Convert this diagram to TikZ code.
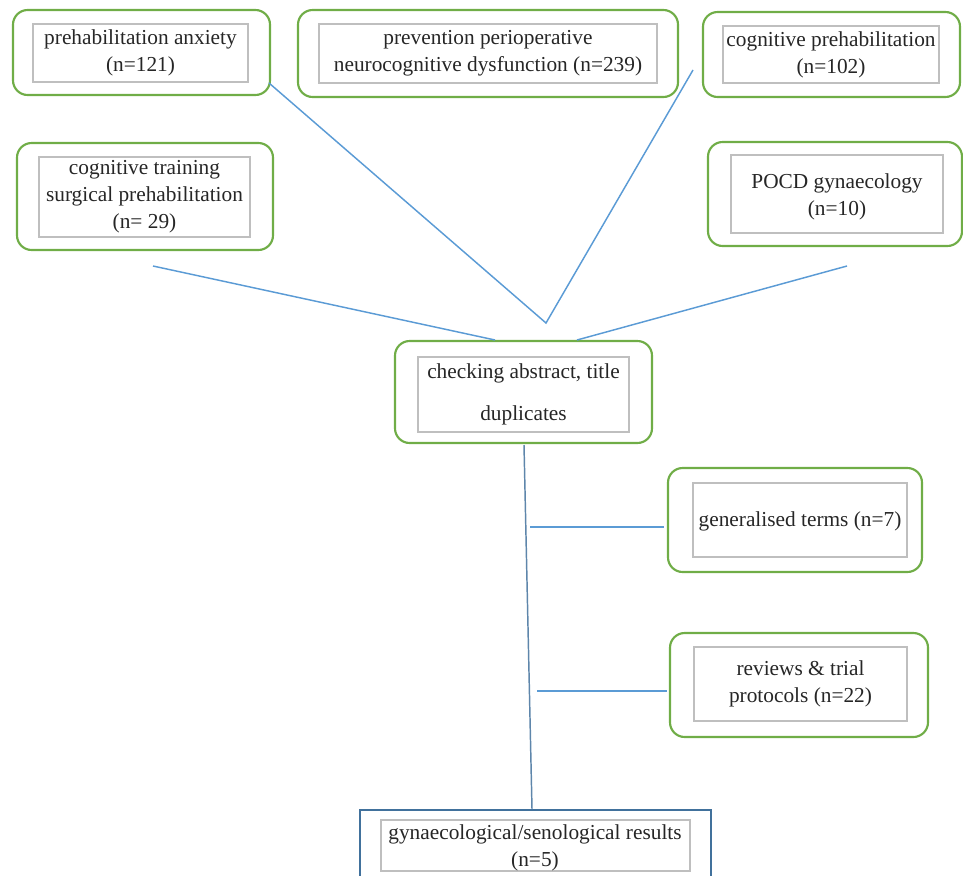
\documentclass[tikz,border=0pt]{standalone}
\usepackage{fontspec}
\setmainfont{Liberation Serif}
\usetikzlibrary{fit}
\definecolor{gr}{HTML}{70AD47}
\definecolor{gy}{HTML}{BFBFBF}
\definecolor{bl}{HTML}{5B9BD5}
\definecolor{db}{HTML}{41719C}
\tikzset{
  outerbox/.style={draw=gr, line width=1.6pt, rounded corners=11pt, inner sep=0pt},
  finalbox/.style={draw=db, line width=1.5pt, inner sep=0pt},
  innerbox/.style={draw=gy, line width=0.9pt, inner sep=0pt},
  txt/.style={align=center, inner sep=0pt, font=\fontsize{16}{20.25}\selectfont, text=black!85},
  link/.style={draw=bl, line width=1.1pt},
  trunk/.style={draw=db!85, line width=1.1pt}
}
\newcommand{\mybox}[6]{%
  \path (#3,#4) coordinate (#2-a) (#5,#6) coordinate (#2-b);
  \node[#1, fit=(#2-a)(#2-b)] (#2) {};}
\begin{document}
\begin{tikzpicture}[x=0.75pt,y=-0.75pt]
\useasboundingbox (0,0) rectangle (963,875);
\clip (0,0) rectangle (963,875);
% box 1
\mybox{outerbox}{o1}{13}{10}{270}{95}
\mybox{innerbox}{i1}{33}{24}{248}{82}
\node[txt] (t1) at (i1.center) {prehabilitation anxiety\\(n=121)};
% box 2
\mybox{outerbox}{o2}{298}{10}{678}{97}
\mybox{innerbox}{i2}{319}{24}{657}{83}
\node[txt] (t2) at (i2.center) {prevention perioperative\\neurocognitive dysfunction (n=239)};
% box 3
\mybox{outerbox}{o3}{703}{12}{960}{97}
\mybox{innerbox}{i3}{723}{26}{939}{83}
\node[txt] (t3) at (i3.center) {cognitive prehabilitation\\(n=102)};
% box 4
\mybox{outerbox}{o4}{17}{143}{273}{250}
\mybox{innerbox}{i4}{39}{157}{250}{237}
\node[txt] (t4) at (i4.center) {cognitive training\\surgical prehabilitation\\(n= 29)};
% box 5
\mybox{outerbox}{o5}{708}{142}{962}{246}
\mybox{innerbox}{i5}{731}{155}{943}{233}
\node[txt] (t5) at (731/2+943/2,197) {POCD gynaecology\\(n=10)};
% box 6
\mybox{outerbox}{o6}{395}{341}{652}{443}
\mybox{innerbox}{i6}{418}{357}{629}{432}
\node[txt, font=\fontsize{16}{32}\selectfont] (t6) at (i6.center) {checking abstract, title\\duplicates};
% box 7
\mybox{outerbox}{o7}{668}{468}{922}{572}
\mybox{innerbox}{i7}{693}{483}{907}{557}
\node[txt] (t7) at (800,521) {generalised terms (n=7)};
% box 8
\mybox{outerbox}{o8}{670}{633}{928}{737}
\mybox{innerbox}{i8}{694}{647}{907}{721}
\node[txt] (t8) at (i8.center) {reviews \& trial\\protocols (n=22)};
% box 9
\mybox{finalbox}{o9}{360}{810}{711}{890}
\mybox{innerbox}{i9}{381}{820}{690}{871}
\node[txt] (t9) at (535,848) {gynaecological/senological results\\(n=5)};
% connectors
\coordinate (apex) at (546,323);
\coordinate (s1) at (269,83);
\coordinate (s3) at (693,70);
\coordinate (s4) at (153,266);
\coordinate (s5) at (847,266);
\coordinate (e4) at (495,340);
\coordinate (e5) at (577,340);
\coordinate (vtop) at (524,445);
\coordinate (vbot) at (532,809);
\coordinate (h1a) at (530,527);
\coordinate (h1b) at (664,527);
\coordinate (h2a) at (537,691);
\coordinate (h2b) at (667,691);
\draw[link] (s1) -- (apex) -- (s3);
\draw[link] (s4) -- (e4);
\draw[link] (s5) -- (e5);
\draw[trunk] (vtop) -- (vbot);
\draw[link] (h1a) -- (h1b);
\draw[link] (h2a) -- (h2b);
\end{tikzpicture}
\end{document}
